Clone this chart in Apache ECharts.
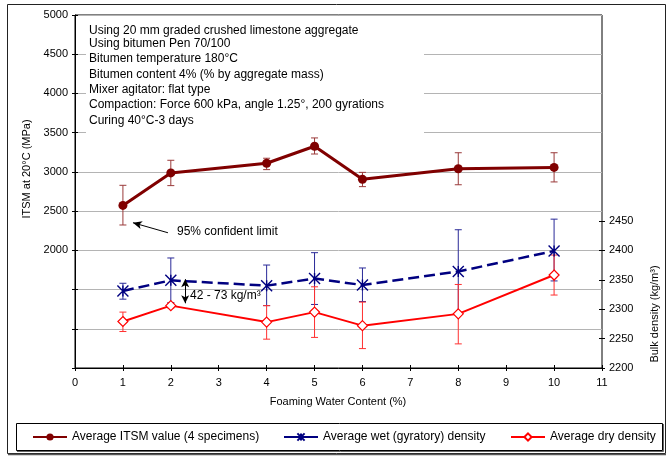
<!DOCTYPE html>
<html><head><meta charset="utf-8">
<script src="https://cdn.jsdelivr.net/npm/echarts@6/dist/echarts.min.js"></script>
<style>html,body{margin:0;padding:0;background:#fff}#c{width:667px;height:456px}</style>
</head><body><div id="c"></div>
<script>
// ---- data ----
const waterContent = [1, 2, 4, 5, 6, 8, 10];
const itsmMean = [2573, 2987, 3110, 3327, 2905, 3040, 3057];
const itsmLow  = [2323, 2825, 3029, 3228, 2812, 2836, 2872];
const itsmHigh = [2829, 3148, 3174, 3433, 2994, 3244, 3244];
const wetMean = [2331, 2349, 2340, 2352, 2341, 2364, 2399];
const wetLow  = [2317, 2311, 2306, 2308, 2313, 2293, 2348];
const wetHigh = [2344, 2387, 2375, 2396, 2370, 2435, 2453];
const dryMean = [2279, 2306, 2278, 2295, 2272, 2292, 2358];
const dryLow  = [2262, 2302, 2249, 2252, 2233, 2241, 2324];
const dryHigh = [2295, 2310, 2306, 2338, 2312, 2342, 2392];
const rightTickValues = [2200, 2250, 2300, 2350, 2400, 2450];
const seriesNames = ['Average ITSM value (4 specimens)', 'Average wet (gyratory) density', 'Average dry density'];
const infoLines = [
  'Using 20 mm graded crushed limestone aggregate',
  'Using bitumen Pen 70/100',
  'Bitumen temperature 180°C',
  'Bitumen content 4% (% by aggregate mass)',
  'Mixer agitator: flat type',
  'Compaction: Force 600 kPa, angle 1.25°, 200 gyrations',
  'Curing 40°C-3 days'
];
const arrowLimit = [[1.94, 2224], [1.21, 2352]];   // annotation arrow (left axis units)
const arrowGap = [[2.3, 2351], [2.3, 2310]];       // double arrow (right axis units)

// ---- chart ----
const FONT = '"Liberation Sans", Arial, sans-serif';
const chart = echarts.init(document.getElementById('c'), null, {renderer: 'canvas'});
const lab = {fontFamily: FONT, fontSize: 11, color: '#000'};
const GRID = {left: 75, right: 65, top: 15, bottom: 88};

function errBar(color) {
  return function (params, api) {
    const x = api.value(0);
    const t = api.coord([x, api.value(2)]);
    const b = api.coord([x, api.value(1)]);
    const w = 3.5, st = {stroke: color, lineWidth: 1};
    return {type: 'group', children: [
      {type: 'line', shape: {x1: t[0], y1: t[1], x2: b[0], y2: b[1]}, style: st},
      {type: 'line', shape: {x1: t[0] - w, y1: t[1], x2: t[0] + w, y2: t[1]}, style: st},
      {type: 'line', shape: {x1: b[0] - w, y1: b[1], x2: b[0] + w, y2: b[1]}, style: st}
    ]};
  };
}
const toPairs = (m) => waterContent.map((x, i) => [x, m[i]]);
const toErr = (lo, hi) => waterContent.map((x, i) => [x, lo[i], hi[i]]);

const legendBase = {
  top: 431, padding: 0, itemWidth: 34, itemHeight: 9, itemGap: 0,
  textStyle: {fontFamily: FONT, fontSize: 12, color: '#000'},
  selectedMode: false
};

const textBox = infoLines.map((t, i) => ({
  type: 'text', z: 10,
  style: {text: t, x: 89, y: [31, 44, 59, 75, 90, 105, 121][i], font: '12px ' + FONT, fill: '#000', textVerticalAlign: 'middle'}
}));

const option = {
  animation: false,
  backgroundColor: '#fff',
  grid: [
    Object.assign({show: true, borderColor: '#000', borderWidth: 1, backgroundColor: 'transparent'}, GRID),
    Object.assign({show: false}, GRID)
  ],
  legend: [
    Object.assign({}, legendBase, {left: 32, data: [seriesNames[0]]}),
    Object.assign({}, legendBase, {left: 283, data: [seriesNames[1]], lineStyle: {type: 'solid'}}),
    Object.assign({}, legendBase, {left: 510, data: [seriesNames[2]]})
  ],
  xAxis: [
    {type: 'value', gridIndex: 0, min: 0, max: 11, interval: 1,
     axisLine: {show: true, lineStyle: {color: '#000', width: 1}},
     axisTick: {show: true, length: 3, lineStyle: {color: '#000'}},
     axisLabel: Object.assign({margin: 9}, lab), splitLine: {show: false}},
    {type: 'value', gridIndex: 1, min: 0, max: 11, interval: 1,
     axisLine: {show: false}, axisTick: {show: true, inside: true, length: 3, lineStyle: {color: '#000'}},
     axisLabel: {show: false}, splitLine: {show: false}}
  ],
  yAxis: [
    {type: 'value', gridIndex: 0, position: 'left', min: 500, max: 5000, interval: 500,
     axisLine: {show: true, lineStyle: {color: '#000'}},
     axisTick: {show: true, length: 3, lineStyle: {color: '#000'}},
     axisLabel: Object.assign({margin: 7, formatter: v => v >= 2000 ? String(v) : ''}, lab),
     splitLine: {show: true, lineStyle: {color: '#b4b4b4', width: 1}}},
    {type: 'value', gridIndex: 0, position: 'right', min: 2200, max: 2800, interval: 50,
     axisLine: {show: false},
     axisTick: {show: true, length: 3, customValues: rightTickValues, lineStyle: {color: '#000'}},
     axisLabel: Object.assign({margin: 7, customValues: rightTickValues, formatter: v => v <= 2450 ? String(v) : ''}, lab),
     splitLine: {show: false}},
    {type: 'value', gridIndex: 1, position: 'left', min: 500, max: 5000, interval: 500,
     axisLine: {show: false}, axisTick: {show: true, inside: true, length: 3, lineStyle: {color: '#000'}},
     axisLabel: {show: false}, splitLine: {show: false}},
    {type: 'value', gridIndex: 1, position: 'right', min: 2200, max: 2800, interval: 50,
     axisLine: {show: false}, axisTick: {show: true, inside: true, length: 3, customValues: rightTickValues, lineStyle: {color: '#000'}},
     axisLabel: {show: false}, splitLine: {show: false}}
  ],
  series: [
    {type: 'custom', name: 'itsmErr', xAxisIndex: 0, yAxisIndex: 0, z: 1, silent: true,
     renderItem: errBar('#9a3a3a'), encode: {x: 0, y: [1, 2]}, data: toErr(itsmLow, itsmHigh)},
    {type: 'custom', name: 'wetErr', xAxisIndex: 0, yAxisIndex: 1, z: 1, silent: true,
     renderItem: errBar('#2a2a98'), encode: {x: 0, y: [1, 2]}, data: toErr(wetLow, wetHigh)},
    {type: 'custom', name: 'dryErr', xAxisIndex: 0, yAxisIndex: 1, z: 1, silent: true,
     renderItem: errBar('#ff3030'), encode: {x: 0, y: [1, 2]}, data: toErr(dryLow, dryHigh)},
    {type: 'line', name: seriesNames[0], xAxisIndex: 0, yAxisIndex: 0, z: 3,
     data: toPairs(itsmMean), symbol: 'circle', symbolSize: 9,
     itemStyle: {color: '#800000'}, lineStyle: {color: '#800000', width: 3},
     markLine: {silent: true, symbol: ['none', 'arrow'], symbolSize: [6, 9], label: {show: false},
       lineStyle: {color: '#000', width: 1, type: 'solid'},
       data: [[{coord: arrowLimit[0]}, {coord: arrowLimit[1]}]]}},
    {type: 'line', name: seriesNames[1], xAxisIndex: 0, yAxisIndex: 1, z: 3,
     data: toPairs(wetMean), symbol: 'path://M0,0L10,10M10,0L0,10M5,0L5,10', symbolSize: 11,
     itemStyle: {color: 'rgba(0,0,0,0)', borderColor: '#000080', borderWidth: 1.4},
     lineStyle: {color: '#000080', width: 2.5, type: [11, 5]},
     markLine: {silent: true, symbol: ['arrow', 'arrow'], symbolSize: [6, 8], label: {show: false},
       lineStyle: {color: '#000', width: 1, type: 'solid'},
       data: [[{coord: arrowGap[0]}, {coord: arrowGap[1]}]]}},
    {type: 'line', name: seriesNames[2], xAxisIndex: 0, yAxisIndex: 1, z: 3,
     data: toPairs(dryMean), symbol: 'diamond', symbolSize: 10,
     itemStyle: {color: '#ffffff', borderColor: '#ff0000', borderWidth: 1.2},
     lineStyle: {color: '#ff0000', width: 2}}
  ],
  graphic: [
    {type: 'rect', z: 5, shape: {x: 7.5, y: 4.5, width: 658, height: 449}, style: {fill: 'none', stroke: '#222', lineWidth: 1}},
    {type: 'line', z: 5, shape: {x1: 8, y1: 454.5, x2: 666, y2: 454.5}, style: {stroke: '#555', lineWidth: 1.5}},
    {type: 'rect', z: 5, shape: {x: 86, y: 18, width: 338, height: 118}, style: {fill: '#fff', stroke: 'none'}},
    ...textBox,
    {type: 'rect', z: 5, shape: {x: 16.5, y: 423.5, width: 646, height: 27}, style: {fill: 'none', stroke: '#000', lineWidth: 1}},
    {type: 'line', z: 5, shape: {x1: 17, y1: 451.5, x2: 663.5, y2: 451.5}, style: {stroke: '#666', lineWidth: 1}},
    {type: 'line', z: 5, shape: {x1: 663.5, y1: 424, x2: 663.5, y2: 451.5}, style: {stroke: '#666', lineWidth: 1}},
    {type: 'text', z: 10, style: {text: '95% confident limit', x: 177, y: 232, font: '12px ' + FONT, fill: '#000', textVerticalAlign: 'middle'}},
    {type: 'text', z: 10, style: {text: '42 - 73 kg/m³', x: 190, y: 296, font: '12px ' + FONT, fill: '#000', textVerticalAlign: 'middle'}},
    {type: 'text', z: 10, x: 27, y: 169, rotation: Math.PI / 2,
     style: {text: 'ITSM at 20°C (MPa)', x: 0, y: 0, font: '11px ' + FONT, fill: '#000', textAlign: 'center', textVerticalAlign: 'middle'}},
    {type: 'text', z: 10, x: 655, y: 314, rotation: Math.PI / 2,
     style: {text: 'Bulk density (kg/m³)', x: 0, y: 0, font: '11px ' + FONT, fill: '#000', textAlign: 'center', textVerticalAlign: 'middle'}},
    {type: 'text', z: 10, style: {text: 'Foaming Water Content (%)', x: 338, y: 402, font: '11px ' + FONT, fill: '#000', textAlign: 'center', textVerticalAlign: 'middle'}}
  ]
};
chart.setOption(option);
</script>
</body></html>
